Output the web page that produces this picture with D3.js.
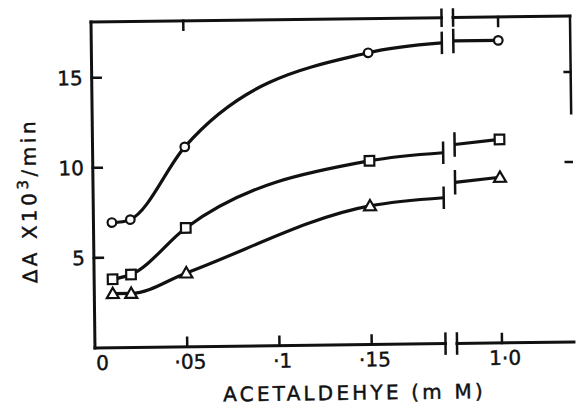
<!DOCTYPE html>
<html>
<head>
<meta charset="utf-8">
<script src="https://cdn.jsdelivr.net/npm/d3@7"></script>
<style>
  html, body { margin: 0; padding: 0; background: #fff; }
  svg { display: block; }
  text { font-family: "DejaVu Sans", sans-serif; fill: #111; stroke: #111; stroke-width: 0.45px; }
</style>
</head>
<body>
<svg id="chart" width="576" height="405"></svg>
<script>
// Acetaldehyde concentration (mM) and rate readings for the three series
const concentrations = [0.01, 0.02, 0.05, 0.15, 1.0];
const circleRates   = [6.95, 7.1, 11.1, 16.2, 16.8];
const squareRates   = [3.8, 4.05, 6.6, 10.2, 11.3];
const triangleRates = [3.0, 3.0, 4.1, 7.7, 9.2];

// Where each hand-drawn curve meets the two sides of the axis break
const breakLow = 0.19, breakHigh = 0.95;
const circleBreakEnds   = [16.7, 16.8];
const squareBreakEnds   = [10.6, 11.05];
const triangleBreakEnds = [8.1, 8.95];

// Axis ticks
const xTicksLow  = [0.05, 0.1, 0.15];
const xTickHigh  = 1.0;
const xTickLabels = ["·05", "·1", "·15"];
const xHighLabel = "1·0";
const yTicks = [5, 10, 15];
const yTicksRight = [10, 15];
const rightBorderBottom = 12.7;

const svg = d3.select("#chart");
const plotLeft = 93, plotRight = 572, plotTop = 19, plotBottom = 345;
const yMax = 18.1, xEnd = 1.08;

// Piecewise x scale: linear low range, a break, then the 1.0 region
const x = d3.scaleLinear()
  .domain([0, breakLow, breakHigh, xEnd])
  .range([plotLeft, plotLeft + breakLow * 1845, plotLeft + breakLow * 1845 + 11.5, plotRight]);
const y = d3.scaleLinear().domain([0, yMax]).range([plotBottom, plotTop]);

// Smooth x-ordered cubic Hermite curve; interior tangents are the
// interval-weighted average of the neighbouring secants (no clamping).
function HermiteX(context) { this._context = context; }
HermiteX.prototype = {
  areaStart() { this._line = 0; },
  areaEnd() { this._line = NaN; },
  lineStart() { this._pts = []; },
  point(px, py) { this._pts.push([+px, +py]); },
  lineEnd() {
    const p = this._pts, n = p.length, c = this._context;
    if (!n) return;
    c.moveTo(p[0][0], p[0][1]);
    if (n === 1) return;
    if (n === 2) { c.lineTo(p[1][0], p[1][1]); return; }
    const h = [], s = [], m = new Array(n);
    for (let i = 0; i < n - 1; i++) {
      h.push(p[i + 1][0] - p[i][0]);
      s.push((p[i + 1][1] - p[i][1]) / h[i]);
    }
    for (let i = 1; i < n - 1; i++) {
      m[i] = (s[i - 1] * h[i] + s[i] * h[i - 1]) / (h[i - 1] + h[i]);
      if (s[i - 1] * s[i] <= 0) m[i] = 0;
    }
    m[0] = (3 * s[0] - m[1]) / 2;
    m[n - 1] = (3 * s[n - 2] - m[n - 2]) / 2;
    for (let i = 0; i < n - 1; i++) {
      const d = h[i] / 3;
      c.bezierCurveTo(p[i][0] + d, p[i][1] + d * m[i],
                      p[i + 1][0] - d, p[i + 1][1] - d * m[i + 1],
                      p[i + 1][0], p[i + 1][1]);
    }
  }
};
const curveHermiteX = context => new HermiteX(context);

const g = svg.append("g").attr("transform", "rotate(-0.7, 333, 184)");

const ink = "#111";
const axisW = 3;

// Frame: left axis, bottom and top borders split at the break, partial right border
const bx0 = x(breakLow), bx1 = x(breakHigh);
const seg = (x1, y1, x2, y2, w) => g.append("line")
  .attr("x1", x1).attr("y1", y1).attr("x2", x2).attr("y2", y2)
  .attr("stroke", ink).attr("stroke-width", w || axisW).attr("stroke-linecap", "square");

seg(x(0), y(0), x(0), y(yMax));
seg(x(0), y(0), bx0, y(0));
seg(bx1, y(0), x(xEnd), y(0));
seg(x(0), y(yMax), bx0, y(yMax));
seg(bx1, y(yMax), x(xEnd), y(yMax));
seg(x(xEnd), y(yMax), x(xEnd), y(rightBorderBottom), 2.5);

// Break bars on the two horizontal borders
[bx0, bx1].forEach(bx => {
  seg(bx, y(0) - 10, bx, y(0) + 10, 2.5);
  seg(bx, y(yMax) - 8, bx, y(yMax) + 8, 2.5);
});

// Bottom ticks (inward) and labels
const tickLen = 9;
const labelSize = 20;
xTicksLow.forEach((t, i) => {
  seg(x(t), y(0), x(t), y(0) - tickLen, 2.5);
  g.append("text").attr("x", x(t) + 3).attr("y", y(0) + 22)
    .attr("text-anchor", "middle").attr("font-size", labelSize).text(xTickLabels[i]);
});
seg(x(xTickHigh), y(0), x(xTickHigh), y(0) - tickLen, 2.5);
g.append("text").attr("x", x(xTickHigh) + 3).attr("y", y(0) + 22)
  .attr("text-anchor", "middle").attr("font-size", labelSize).text(xHighLabel);
g.append("text").attr("x", x(0) + 1).attr("y", y(0) + 22)
  .attr("text-anchor", "start").attr("font-size", labelSize).text("0");

// Top ticks
seg(x(0.05), y(yMax), x(0.05), y(yMax) + tickLen, 2.5);
seg(x(xTickHigh), y(yMax), x(xTickHigh), y(yMax) + tickLen, 2.5);

// Left ticks and labels
yTicks.forEach(t => {
  seg(x(0), y(t), x(0) + tickLen, y(t), 2.5);
  g.append("text").attr("x", x(0) - 9).attr("y", y(t)).attr("dy", "0.36em")
    .attr("text-anchor", "end").attr("font-size", labelSize).text(t);
});
// Right ticks
yTicksRight.forEach(t => seg(x(xEnd), y(t), x(xEnd) - 6, y(t), 2.5));

// Axis titles
g.append("text").attr("x", 352).attr("y", 400)
  .attr("text-anchor", "middle").attr("font-size", 20)
  .attr("letter-spacing", 3.2).text("ACETALDEHYE (m M)");

const yTitle = g.append("text")
  .attr("transform", "translate(36,197) rotate(-90)")
  .attr("text-anchor", "middle").attr("font-size", 20)
  .attr("letter-spacing", 3.5);
yTitle.append("tspan").text("ΔA X10");
yTitle.append("tspan").attr("dy", -8).attr("font-size", 15).text("3");
yTitle.append("tspan").attr("dy", 8).text("/min");

// Series
const series = [
  { vals: circleRates, ends: circleBreakEnds, shape: "circle" },
  { vals: squareRates, ends: squareBreakEnds, shape: "square" },
  { vals: triangleRates, ends: triangleBreakEnds, shape: "triangle" }
];

const curve = d3.line().x(d => x(d[0])).y(d => y(d[1])).curve(curveHermiteX);
const straight = d3.line().x(d => x(d[0])).y(d => y(d[1]));

series.forEach(s => {
  const lowPts = concentrations.slice(0, 4).map((c, i) => [c, s.vals[i]]);
  lowPts.push([breakLow, s.ends[0]]);
  g.append("path").attr("d", curve(lowPts))
    .attr("fill", "none").attr("stroke", ink).attr("stroke-width", 3.2);
  const highPts = [[breakHigh, s.ends[1]], [concentrations[4], s.vals[4]]];
  g.append("path").attr("d", straight(highPts))
    .attr("fill", "none").attr("stroke", ink).attr("stroke-width", 3.2);
  // break bars on the curve
  seg(bx0, y(s.ends[0]) - 10, bx0, y(s.ends[0]) + 10, 2.5);
  seg(bx1, y(s.ends[1]) - 11, bx1, y(s.ends[1]) + 11, 2.5);

  concentrations.forEach((c, i) => {
    const cx = x(c), cy = y(s.vals[i]);
    let m;
    if (s.shape === "circle") {
      m = g.append("circle").attr("cx", cx).attr("cy", cy).attr("r", 4.3);
    } else if (s.shape === "square") {
      m = g.append("rect").attr("x", cx - 4.8).attr("y", cy - 4.8)
        .attr("width", 9.6).attr("height", 9.6);
    } else {
      const sym = d3.symbol().type(d3.symbolTriangle).size(62);
      m = g.append("path").attr("d", sym()).attr("transform", `translate(${cx},${cy + 1})`);
    }
    m.attr("fill", "#fff").attr("stroke", ink).attr("stroke-width", 2.2);
  });
});
</script>
</body>
</html>
